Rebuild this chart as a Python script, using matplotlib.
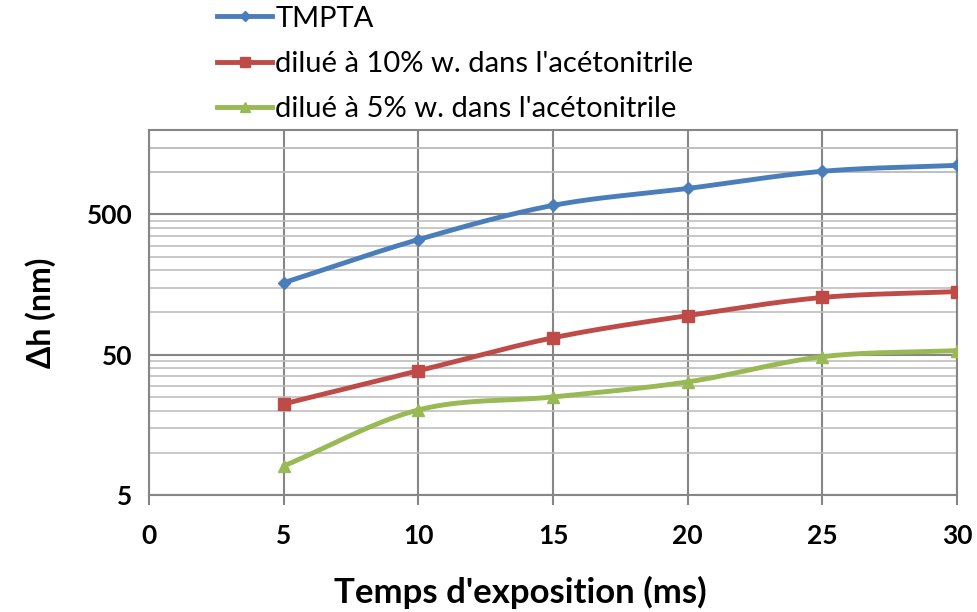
import numpy as np
import matplotlib
matplotlib.use('Agg')
import matplotlib.pyplot as plt
from matplotlib.ticker import FixedLocator, NullFormatter

temps = [5, 10, 15, 20, 25, 30]
tmpta = [163, 331, 580, 766, 1015, 1120]
dilue_10 = [22.3, 38.4, 66, 95, 128, 141]
dilue_5 = [8.05, 20.2, 25, 32, 48.4, 53.5]
labels = ['TMPTA', "dilué à 10% w. dans l'acétonitrile", "dilué à 5% w. dans l'acétonitrile"]


def smooth(x, y, n=30):
    # Excel-like smoothed line (Catmull-Rom in x / log y)
    x = np.asarray(x, float)
    ly = np.log10(np.asarray(y, float))
    px = np.concatenate([[2 * x[0] - x[1]], x, [2 * x[-1] - x[-2]]])
    py = np.concatenate([[2 * ly[0] - ly[1]], ly, [2 * ly[-1] - ly[-2]]])
    xs, ys = [], []
    for i in range(1, len(px) - 2):
        t = np.linspace(0, 1, n)
        for arr, out in ((px, xs), (py, ys)):
            p0, p1, p2, p3 = arr[i - 1], arr[i], arr[i + 1], arr[i + 2]
            out.extend(p1 + 0.5 * t * (p2 - p0)
                       + t ** 2 * (p0 - 2.5 * p1 + 2 * p2 - 0.5 * p3)
                       + t ** 3 * (-0.5 * p0 + 1.5 * p1 - 1.5 * p2 + 0.5 * p3))
    return np.array(xs), 10 ** np.array(ys)


def main():
    matplotlib.rc('font', family='Lato')

    fig = plt.figure(figsize=(9.78, 6.12), dpi=100)
    ax = fig.add_axes([0.1524, 0.1912, 0.8261, 0.5964])

    colors = ['#4A7EBB', '#BE4B48', '#98B954']
    markers = ['D', 's', '^']
    msizes = [6, 8, 8]
    handles = []
    for ys, c, m, ms, lab in zip([tmpta, dilue_10, dilue_5], colors, markers, msizes, labels):
        sx, sy = smooth(temps, ys)
        ax.plot(sx, sy, color=c, lw=3.5, zorder=3, solid_capstyle='round')
        ax.plot(temps, ys, ls='none', marker=m, ms=ms, color=c, zorder=4)
        h, = ax.plot([], [], color=c, lw=3.5, marker=m, ms=ms - 1, label=lab)
        handles.append(h)

    ax.set_yscale('log')
    ax.set_xlim(0, 30)
    ax.set_ylim(5, 2000)
    ax.yaxis.set_major_locator(FixedLocator([5, 50, 500]))
    minors = [5 * k * d for d in (1, 10, 100) for k in range(2, 10)] + [1000, 1500]
    ax.yaxis.set_minor_locator(FixedLocator(minors))
    ax.yaxis.set_minor_formatter(NullFormatter())
    ax.set_yticklabels(['5', '50', '500'])
    ax.set_xticks([0, 5, 10, 15, 20, 25, 30])

    ax.grid(True, which='major', color='#868686', lw=1.5)
    ax.grid(True, which='minor', axis='y', color='#BFBFBF', lw=1.2)
    ax.set_axisbelow(True)
    for s in ax.spines.values():
        s.set_color('#868686')
        s.set_linewidth(1.5)
    ax.tick_params(which='major', length=7, width=1.5, color='#868686', labelsize=19)
    ax.tick_params(axis='x', which='major', pad=14)
    ax.tick_params(axis='y', which='major', length=0, pad=12)
    ax.tick_params(which='minor', length=0)
    for t in ax.get_xticklabels() + ax.get_yticklabels():
        t.set_fontweight('bold')

    ax.set_xlabel("Temps d'exposition (ms)", fontsize=25, fontweight='bold')
    ax.xaxis.set_label_coords(0.459, -0.222)
    ax.set_ylabel('Δh (nm)', fontsize=23, fontweight='bold', labelpad=22)

    fig.legend(handles=handles, loc='upper left', bbox_to_anchor=(0.210, 1.01),
               frameon=False, fontsize=21, handlelength=1.9, handletextpad=0.1,
               labelspacing=0.66, borderaxespad=0)

    fig.savefig('out.png', dpi=100)
    plt.close(fig)


if __name__ == '__main__':
    main()
